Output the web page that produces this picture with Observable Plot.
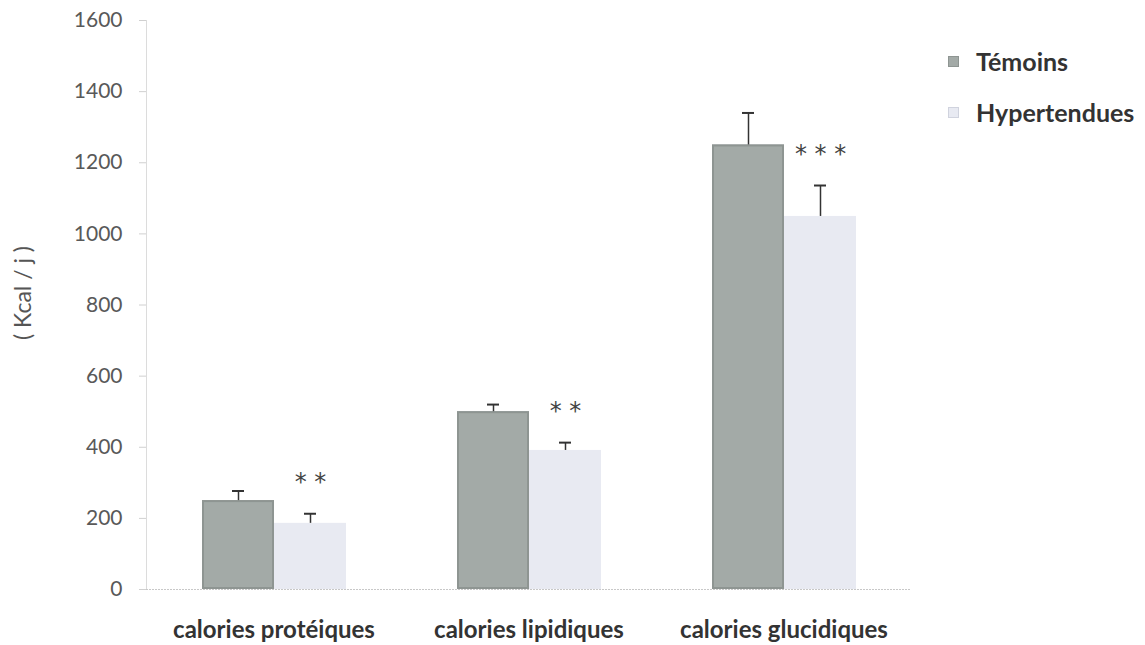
<!DOCTYPE html>
<html>
<head>
<meta charset="utf-8">
<script src="https://cdn.jsdelivr.net/npm/d3@7"></script>
<script src="https://cdn.jsdelivr.net/npm/@observablehq/plot@0.6"></script>
<style>
  html, body { margin: 0; padding: 0; background: #fff; }
  #wrap { position: relative; width: 1145px; height: 645px; font-family: Lato, "Open Sans", sans-serif; }
  .legend { position: absolute; left: 948px; font-weight: bold; font-size: 25px; color: #333; display: flex; align-items: center; }
  .sw { width: 9px; height: 9px; margin-right: 17px; display: inline-block; }
</style>
</head>
<body>
<div id="wrap"></div>
<script>
const categories = ["calories protéiques", "calories lipidiques", "calories glucidiques"];
const series = ["Témoins", "Hypertendues"];
const temoins = [250, 500, 1250];
const temoinsSD = [27, 20, 90];
const hyper = [186, 391, 1049];
const hyperSD = [27, 22, 87];
const stars = ["* *", "* *", "* * *"];
const yTicks = [0, 200, 400, 600, 800, 1000, 1200, 1400, 1600];
const colors = ["#a3aaa7", "#e8eaf2"];

const data = [];
categories.forEach((c, i) => {
  data.push({cat: c, s: series[0], v: temoins[i], top: temoins[i] + temoinsSD[i], star: ""});
  data.push({cat: c, s: series[1], v: hyper[i], top: hyper[i] + hyperSD[i], star: stars[i]});
});

const chart = Plot.plot({
  width: 1145,
  height: 645,
  marginLeft: 146,
  marginRight: 234,
  marginTop: 20,
  marginBottom: 56,
  style: {fontFamily: "Lato, 'Open Sans', sans-serif", background: "#fff"},
  fx: {domain: categories, padding: 0, label: null},
  x: {domain: series, paddingInner: 0, paddingOuter: 0.762, axis: null},
  y: {domain: [0, 1600], ticks: yTicks, label: null},
  color: {domain: series, range: colors},
  marks: [
    Plot.axisY({ticks: yTicks, tickFormat: "d", tickSize: 7, tickPadding: 17, fontSize: 21, color: "#595959", stroke: "#d0d0d0", label: null}),
    Plot.axisFx({anchor: "bottom", tickSize: 0, tickPadding: 31, fontSize: 24, fontWeight: "bold", fill: "#333", label: null}),
    Plot.barY(data, {fx: "cat", x: "s", y: "v", fill: "s"}),
    Plot.barY(data.filter(d => d.s === series[0]), {fx: "cat", x: "s", y: "v", fill: "none", stroke: "#8e9592", strokeWidth: 2, inset: 1}),
    Plot.ruleX(data, {fx: "cat", x: "s", y1: "v", y2: "top", stroke: "#333", strokeWidth: 1.5}),
    Plot.tickY(data, {fx: "cat", x: "s", y: "top", stroke: "#333", strokeWidth: 2, insetLeft: 30, insetRight: 30}),
    Plot.text(data, {fx: "cat", x: "s", y: "top", text: "star", dy: -24, fontSize: 24, fill: "#444", lineAnchor: "bottom", fontFamily: "DejaVu Sans"}),
    Plot.ruleY([0], {stroke: "#c8c8c8", strokeDasharray: "2,1"})
  ]
});

const wrap = document.getElementById("wrap");
wrap.appendChild(chart);

const ylabel = document.createElement("div");
ylabel.textContent = "( Kcal / j )";
ylabel.style.cssText = "position:absolute;left:22px;top:293px;transform:translate(-50%,-50%) rotate(-90deg);font-size:23px;color:#555;white-space:nowrap;";
wrap.appendChild(ylabel);

// y-axis line
const axisLine = document.createElement("div");
axisLine.style.cssText = "position:absolute;left:146px;top:20px;width:1px;height:569px;background:#dcdcdc;";
wrap.appendChild(axisLine);

series.forEach((s, i) => {
  const d = document.createElement("div");
  d.className = "legend";
  d.style.top = (i === 0 ? 46 : 97) + "px";
  d.innerHTML = `<span class="sw" style="background:${colors[i]};border:1px solid ${i===0?'#8e9592':'#d0d3de'}"></span>${s}`;
  wrap.appendChild(d);
});
</script>
</body>
</html>
